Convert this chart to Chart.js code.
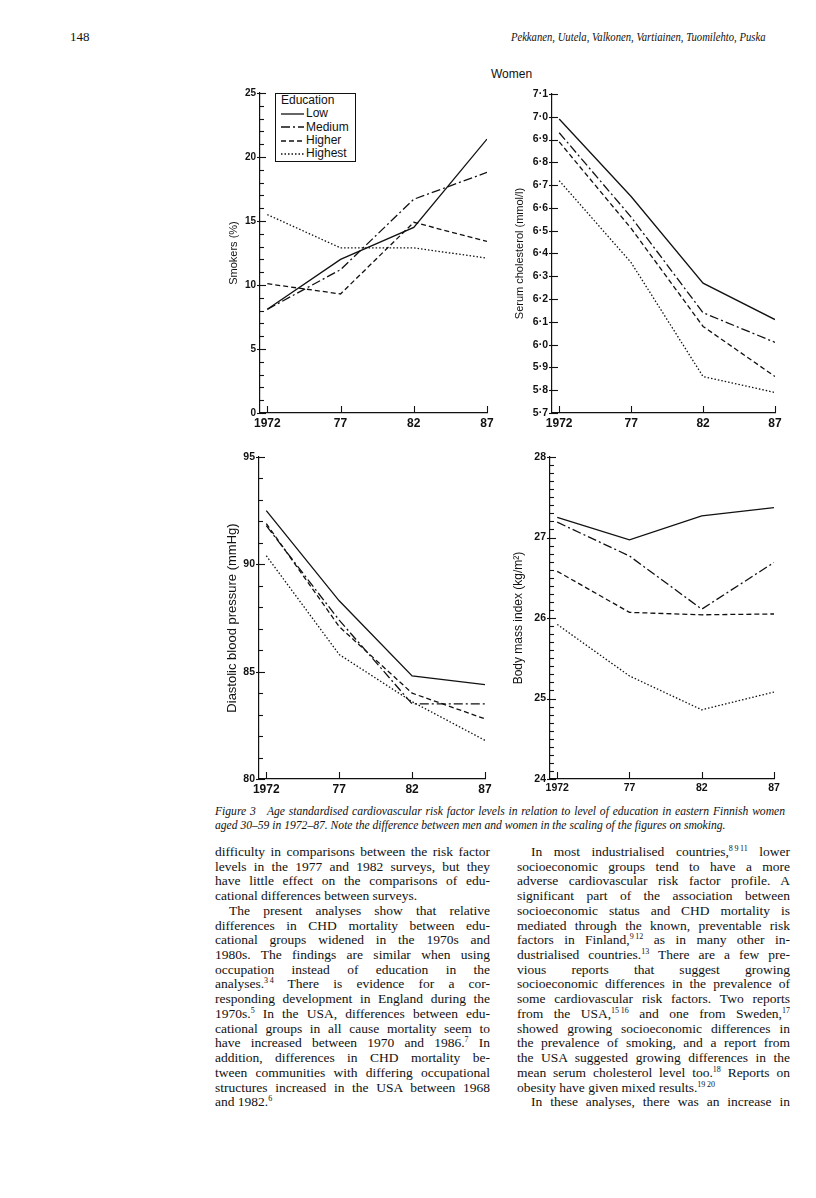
<!DOCTYPE html>
<html>
<head>
<meta charset="utf-8">
<script src="https://cdn.jsdelivr.net/npm/chart.js@4.4.1/dist/chart.umd.min.js"></script>
<style>
    html, body { margin: 0; padding: 0; background: #fff; overflow: hidden; }
    #page { position: relative; width: 816px; height: 1198px; background: #fff; color: #111;
            font-family: "Liberation Serif", "Times New Roman", serif; }
    .abs { position: absolute; white-space: nowrap; }
    canvas { position: absolute; }
    .sans { font-family: "Liberation Sans", Arial, sans-serif; }
    #legend { position: absolute; left: 275px; top: 93px; width: 74px; height: 67px;
              border: 1px solid #111; background: #fff; font-family: "Liberation Sans", Arial, sans-serif;
              font-size: 12px; line-height: 13.3px; padding-left: 5px; box-sizing: content-box; z-index: 2; }
    #legend .lrow { display: flex; align-items: center; height: 13.3px; }
    #legend svg { margin-right: 2px; }
    .col { position: absolute; font-size: 13.5px; line-height: 14.72px; }
    .col div { text-align: justify; text-align-last: justify; }
    .col div.l { text-align-last: left; }
    .col div.ind { text-indent: 14px; }
    sup { font-size: 8px; line-height: 0; vertical-align: 5px; }
    .cap { position: absolute; font-style: italic; font-size: 11.6px; line-height: 14px; }
    #runhead { transform: scaleX(0.82); transform-origin: right center; }
</style>
</head>
<body>
<div id="page">
    <div class="abs" style="left:70px; top:29px; font-size:13px;">148</div>
    <div id="runhead" class="abs" style="right:51px; top:29px; font-size:13px; font-style:italic;">Pekkanen, Uutela, Valkonen, Vartiainen, Tuomilehto, Puska</div>
    <div class="abs sans" style="left:491px; top:67px; font-size:12px;">Women</div>

    <canvas id="smokersChart" width="277" height="353" style="left:223px; top:80px;"></canvas>
    <canvas id="cholChart" width="281" height="353" style="left:509px; top:80px;"></canvas>
    <canvas id="dbpChart" width="279" height="354" style="left:221px; top:445px;"></canvas>
    <canvas id="bmiChart" width="283" height="354" style="left:507px; top:445px;"></canvas>

    <div id="legend"><div>Education</div></div>

    <div class="cap" style="left:215px; top:805px; width:570px;">
        <div style="text-align:justify; text-align-last:justify;">Figure 3&nbsp;&nbsp; Age standardised cardiovascular risk factor levels in relation to level of education in eastern Finnish women</div>
        <div>aged 30–59 in 1972–87. Note the difference between men and women in the scaling of the figures on smoking.</div>
    </div>

    <div class="col" style="left:215px; top:845px; width:275px;">
        <div>difficulty in comparisons between the risk factor</div>
        <div>levels in the 1977 and 1982 surveys, but they</div>
        <div>have little effect on the comparisons of edu-</div>
        <div class="l">cational differences between surveys.</div>
        <div class="ind">The present analyses show that relative</div>
        <div>differences in CHD mortality between edu-</div>
        <div>cational groups widened in the 1970s and</div>
        <div>1980s. The findings are similar when using</div>
        <div>occupation instead of education in the</div>
        <div>analyses.<sup>3&#8201;4</sup> There is evidence for a cor-</div>
        <div>responding development in England during the</div>
        <div>1970s.<sup>5</sup> In the USA, differences between edu-</div>
        <div>cational groups in all cause mortality seem to</div>
        <div>have increased between 1970 and 1986.<sup>7</sup> In</div>
        <div>addition, differences in CHD mortality be-</div>
        <div>tween communities with differing occupational</div>
        <div>structures increased in the USA between 1968</div>
        <div class="l">and 1982.<sup>6</sup></div>
    </div>

    <div class="col" style="left:517px; top:845px; width:273px;">
        <div class="ind">In most industrialised countries,<sup>8&#8201;9&#8201;11</sup> lower</div>
        <div>socioeconomic groups tend to have a more</div>
        <div>adverse cardiovascular risk factor profile. A</div>
        <div>significant part of the association between</div>
        <div>socioeconomic status and CHD mortality is</div>
        <div>mediated through the known, preventable risk</div>
        <div>factors in Finland,<sup>9&#8201;12</sup> as in many other in-</div>
        <div>dustrialised countries.<sup>13</sup> There are a few pre-</div>
        <div>vious reports that suggest growing</div>
        <div>socioeconomic differences in the prevalence of</div>
        <div>some cardiovascular risk factors. Two reports</div>
        <div>from the USA,<sup>15&#8201;16</sup> and one from Sweden,<sup>17</sup></div>
        <div>showed growing socioeconomic differences in</div>
        <div>the prevalence of smoking, and a report from</div>
        <div>the USA suggested growing differences in the</div>
        <div>mean serum cholesterol level too.<sup>18</sup> Reports on</div>
        <div class="l">obesity have given mixed results.<sup>19&#8201;20</sup></div>
        <div class="ind">In these analyses, there was an increase in</div>
    </div>
</div>

<script>
// Données (femmes, Finlande de l'Est)
const years = [1972, 1977, 1982, 1987];
const yearLabels = ['1972', '77', '82', '87'];
const groups = ['Low', 'Medium', 'Higher', 'Highest'];
const dashes = [[], [9, 3, 2, 3], [5, 3], [1.5, 2]];

const smokersLow = [8.1, 12.0, 14.5, 21.4];
const smokersMedium = [8.1, 11.2, 16.7, 18.8];
const smokersHigher = [10.1, 9.3, 14.9, 13.4];
const smokersHighest = [15.5, 12.9, 12.9, 12.1];

const cholLow = [6.99, 6.65, 6.27, 6.11];
const cholMedium = [6.93, 6.56, 6.14, 6.01];
const cholHigher = [6.89, 6.51, 6.08, 5.86];
const cholHighest = [6.72, 6.36, 5.86, 5.79];

const dbpLow = [92.5, 88.3, 84.8, 84.4];
const dbpMedium = [91.8, 87.4, 83.5, 83.5];
const dbpHigher = [91.9, 87.1, 84.0, 82.8];
const dbpHighest = [90.4, 85.8, 83.6, 81.8];

const bmiLow = [27.25, 26.97, 27.27, 27.37];
const bmiMedium = [27.19, 26.77, 26.11, 26.69];
const bmiHigher = [26.58, 26.07, 26.04, 26.05];
const bmiHighest = [25.92, 25.28, 24.86, 25.08];

const INK = '#111';
const SANS = '"Liberation Sans", Arial, sans-serif';

const isMult = (v, m) => Math.abs(v / m - Math.round(v / m)) < 1e-6;

// ticks tournés vers l'intérieur (axe x vers le haut, axe y vers la droite)
const tickMarks = {
    id: 'tickMarks',
    afterDraw(chart, args, opts) {
        const { ctx, chartArea } = chart;
        const x = chart.scales.x;
        const y = chart.scales.y;
        ctx.save();
        ctx.strokeStyle = INK;
        ctx.lineWidth = 1.1;
        years.forEach((v) => {
            const px = Math.round(x.getPixelForValue(v)) + 0.5;
            ctx.beginPath();
            ctx.moveTo(px, chartArea.bottom);
            ctx.lineTo(px, chartArea.bottom - 7);
            ctx.stroke();
        });
        y.ticks.forEach((t) => {
            const py = Math.round(y.getPixelForValue(t.value)) + 0.5;
            const major = isMult(t.value, opts.majorStep);
            ctx.beginPath();
            ctx.moveTo(chartArea.left - (major ? 3 : 0), py);
            ctx.lineTo(chartArea.left + (major ? 6 : 4), py);
            ctx.stroke();
        });
        ctx.restore();
    }
};

function makeChart(id, cfg) {
    const canvas = document.getElementById(id);
    return new Chart(canvas, {
        type: 'line',
        data: {
            datasets: cfg.series.map((vals, i) => ({
                label: groups[i],
                data: years.map((yr, k) => ({ x: yr, y: vals[k] })),
                borderColor: INK,
                borderWidth: 1.3,
                borderDash: dashes[i],
                pointRadius: 0,
                tension: 0,
                fill: false
            }))
        },
        options: {
            responsive: false,
            animation: false,
            layout: { padding: { top: cfg.padTop, right: cfg.padRight, left: 0, bottom: 0 } },
            plugins: {
                legend: { display: false },
                tooltip: { enabled: false },
                tickMarks: { majorStep: cfg.majorStep }
            },
            scales: {
                x: {
                    type: 'linear',
                    min: 1971.5,
                    max: 1987,
                    afterBuildTicks: (s) => { s.ticks = years.map((v) => ({ value: v })); },
                    afterFit: (s) => { s.height = 20; },
                    ticks: {
                        autoSkip: false,
                        maxRotation: 0,
                        padding: 3,
                        color: INK,
                        font: { family: SANS, size: cfg.xFont, weight: 'bold' },
                        callback: (v) => yearLabels[years.indexOf(v)]
                    },
                    grid: { display: true, drawOnChartArea: false, drawTicks: false },
                    border: { display: true, color: INK, width: 1.2 }
                },
                y: {
                    min: cfg.min,
                    max: cfg.max,
                    afterFit: (s) => { s.width = cfg.yWidth; },
                    ticks: {
                        stepSize: cfg.step,
                        autoSkip: false,
                        padding: 4,
                        color: INK,
                        font: { family: SANS, size: cfg.yFont, weight: 'bold' },
                        callback: cfg.label
                    },
                    grid: { display: true, drawOnChartArea: false, drawTicks: false },
                    border: { display: true, color: INK, width: 1.2 },
                    title: {
                        display: true,
                        text: cfg.title,
                        color: INK,
                        font: { family: SANS, size: cfg.titleFont },
                        padding: { top: 4, bottom: 0 }
                    }
                }
            }
        },
        plugins: [tickMarks]
    });
}

makeChart('smokersChart', {
    series: [smokersLow, smokersMedium, smokersHigher, smokersHighest],
    min: 0, max: 25, step: 1, majorStep: 5,
    label: (v) => (isMult(v, 5) ? String(v) : ''),
    title: 'Smokers (%)', titleFont: 11, xFont: 12, yFont: 10,
    padTop: 13, padRight: 13, yWidth: 37
});

makeChart('cholChart', {
    series: [cholLow, cholMedium, cholHigher, cholHighest],
    min: 5.7, max: 7.1, step: 0.1, majorStep: 0.1,
    label: (v) => v.toFixed(1).replace('.', '·'),
    title: 'Serum cholesterol (mmol/l)', titleFont: 11, xFont: 12, yFont: 10.5,
    padTop: 14, padRight: 15, yWidth: 43
});

makeChart('dbpChart', {
    series: [dbpLow, dbpMedium, dbpHigher, dbpHighest],
    min: 80, max: 95, step: 1, majorStep: 5,
    label: (v) => (isMult(v, 5) ? String(v) : ''),
    title: 'Diastolic blood pressure (mmHg)', titleFont: 13, xFont: 12, yFont: 10.5,
    padTop: 12, padRight: 15, yWidth: 38
});

makeChart('bmiChart', {
    series: [bmiLow, bmiMedium, bmiHigher, bmiHighest],
    min: 24, max: 28, step: 0.1, majorStep: 1,
    label: (v) => (isMult(v, 1) ? String(Math.round(v)) : ''),
    title: 'Body mass index (kg/m²)', titleFont: 12, xFont: 10.5, yFont: 10.5,
    padTop: 12, padRight: 16, yWidth: 43
});

// légende "Education" dans le premier graphique
const legendBox = document.getElementById('legend');
groups.forEach((g, i) => {
    const row = document.createElement('div');
    row.className = 'lrow';
    row.innerHTML = `<svg width="23" height="8"><line x1="0" y1="4" x2="23" y2="4" stroke="${INK}" stroke-width="1.3" stroke-dasharray="${dashes[i].join(' ')}"/></svg><span>${g}</span>`;
    legendBox.appendChild(row);
});
</script>
</body>
</html>
